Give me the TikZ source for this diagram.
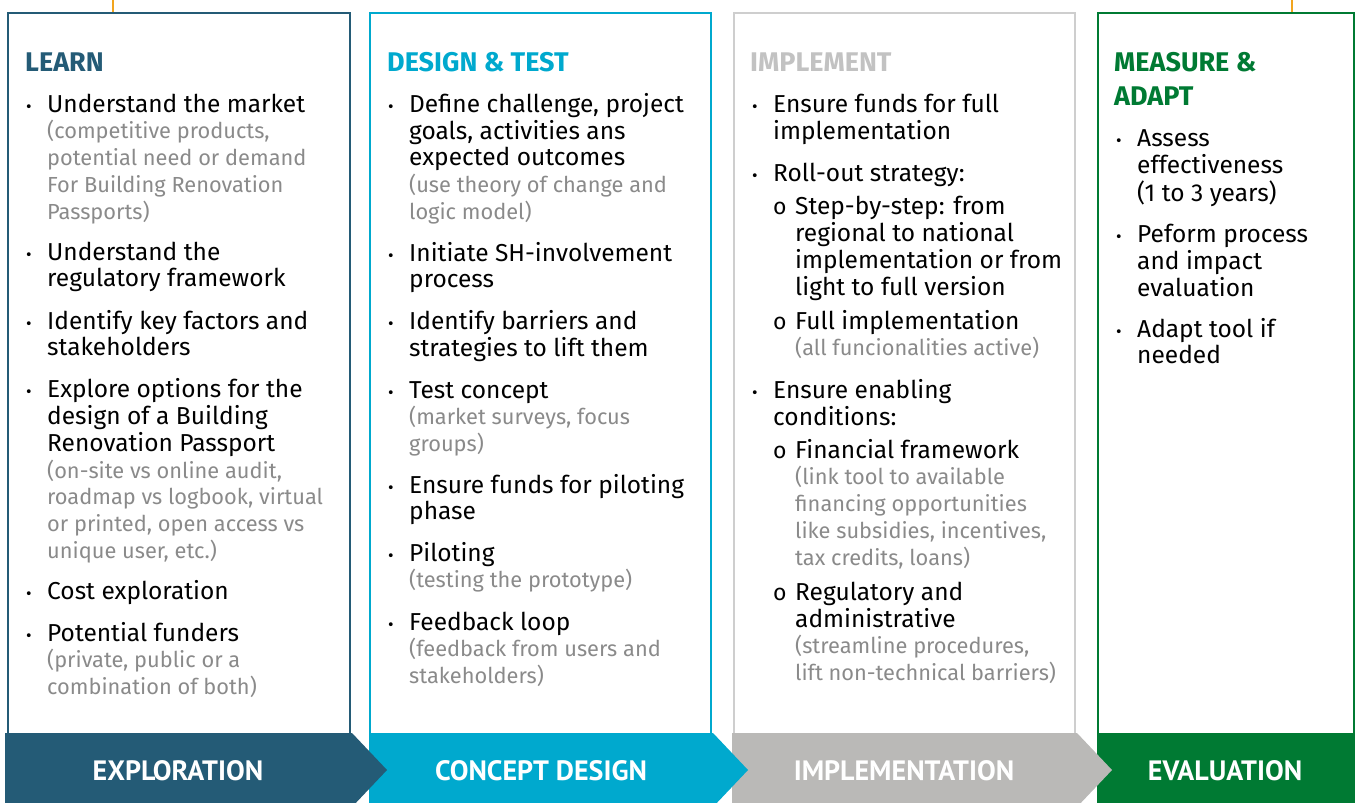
\documentclass[tikz,border=0pt]{standalone}
\usepackage{fontspec}
\setmainfont{Fira Sans}
\newfontfamily\phasefont{PT Sans}
\usetikzlibrary{positioning}

\definecolor{learncol}{HTML}{245B76}
\definecolor{designcol}{HTML}{00A9CE}
\definecolor{implcol}{HTML}{BAB9B7}
\definecolor{implhead}{HTML}{C2C2C2}
\definecolor{evalcol}{HTML}{007A33}
\definecolor{linkcol}{HTML}{F2A51E}
\definecolor{subgrey}{HTML}{8A8A8A}

\newcommand\subtxt[1]{{\color{subgrey}\fontsize{21.8}{26.8}\selectfont #1}}
\newcommand\rows[1]{\begin{tabular}[t]{@{}l@{}}#1\end{tabular}}

\begin{document}
\begin{tikzpicture}[x=1pt,y=-1pt,
	box/.style={draw,line width=2pt,anchor=north west,inner sep=0pt,minimum height=725pt},
	head/.style={anchor=base west,inner sep=0pt,font=\bfseries\fontsize{27}{34}\selectfont},
	txt/.style={anchor=base west,inner sep=0pt,font=\fontsize{24.5}{26.8}\selectfont},
	bul/.style={anchor=base west,inner sep=0pt,font=\fontsize{17}{20}\selectfont},
	sbul/.style={anchor=base west,inner sep=0pt,font=\fontsize{23}{26.8}\selectfont},
	phase/.style={inner sep=0pt,text=white,font=\phasefont\bfseries\fontsize{28}{30}\selectfont}]

	\useasboundingbox (0,0) rectangle (1358,803);

	% column frames
	\node[box,draw=learncol,minimum width=342pt] (learnbox) at (7,12) {};
	\node[box,draw=designcol,minimum width=341pt] (designbox) at (369,12) {};
	\node[box,draw=implhead!80,minimum width=341pt] (implbox) at (733,12) {};
	\node[box,draw=evalcol,minimum width=256pt] (evalbox) at (1097,12) {};

	\coordinate (link1) at (113,0);
	\coordinate (link2) at (1292,0);
	\draw[linkcol,line width=2pt] (link1) -- (link1 |- learnbox.north);
	\draw[linkcol,line width=2pt] (link2) -- (link2 |- evalbox.north);

	% phase arrows
	\fill[evalcol] (1097,733) rectangle (1355,810);
	\fill[implcol] (732,733) -- (1077,733) -- (1112,770) -- (1077,807) -- (732,807) -- cycle;
	\fill[designcol] (369,733) -- (713,733) -- (748,770) -- (713,807) -- (369,807) -- cycle;
	\fill[learncol] (5,733) -- (352,733) -- (387,770) -- (352,807) -- (5,807) -- cycle;

	\node[phase] (exploration) at (178,771) {EXPLORATION};
	\node[phase] (concept) at (541,771) {CONCEPT DESIGN};
	\node[phase] (implementation) at (904,771) {IMPLEMENTATION};
	\node[phase] (evaluation) at (1225,771) {EVALUATION};

	% LEARN
	\node[head,text=learncol] (learn) at (25,71) {LEARN};
	\node[txt] (l1) at (47,112) {\rows{Understand the market\\\subtxt{(competitive products,}\\\subtxt{potential need or demand}\\\subtxt{For Building Renovation}\\\subtxt{Passports)}}};
	\node[txt] (l2) at (47,260) {\rows{Understand the\\regulatory framework}};
	\node[txt] (l3) at (47,329) {\rows{Identify key factors and\\stakeholders}};
	\node[txt] (l4) at (47,397) {\rows{Explore options for the\\design of a Building\\Renovation Passport\\\subtxt{(on-site vs online audit,}\\\subtxt{roadmap vs logbook, virtual}\\\subtxt{or printed, open access vs}\\\subtxt{unique user, etc.)}}};
	\node[txt] (l5) at (47,599) {Cost exploration};
	\node[txt] (l6) at (47,641) {\rows{Potential funders\\\subtxt{(private, public or a}\\\subtxt{combination of both)}}};
	\foreach \n in {1,...,6}
		\node[bul] (lb\n) at ([xshift=-21pt]l\n.base west) {\textbullet};

	% DESIGN & TEST
	\node[head,text=designcol] (design) at (387,71) {DESIGN \& TEST};
	\node[txt] (d1) at (409,112) {\rows{Define challenge, project\\goals, activities ans\\expected outcomes\\\subtxt{(use theory of change and}\\\subtxt{logic model)}}};
	\node[txt] (d2) at (409,261) {\rows{Initiate SH-involvement\\process}};
	\node[txt] (d3) at (409,329) {\rows{Identify barriers and\\strategies to lift them}};
	\node[txt] (d4) at (409,398) {\rows{Test concept\\\subtxt{(market surveys, focus}\\\subtxt{groups)}}};
	\node[txt] (d5) at (409,493) {\rows{Ensure funds for piloting\\phase}};
	\node[txt] (d6) at (409,561) {\rows{Piloting\\\subtxt{(testing the prototype)}}};
	\node[txt] (d7) at (409,630) {\rows{Feedback loop\\\subtxt{(feedback from users and}\\\subtxt{stakeholders)}}};
	\foreach \n in {1,...,7}
		\node[bul] (db\n) at ([xshift=-21pt]d\n.base west) {\textbullet};

	% IMPLEMENT
	\node[head,text=implhead] (implement) at (750,71) {IMPLEMENT};
	\node[txt] (m1) at (773,112) {\rows{Ensure funds for full\\implementation}};
	\node[txt] (m2) at (773,181) {Roll-out strategy:};
	\node[txt] (m3) at (795,214) {\rows{Step-by-step: from\\regional to national\\implementation or from\\light to full version}};
	\node[txt] (m4) at (795,329) {\rows{Full implementation\\\subtxt{(all funcionalities active)}}};
	\node[txt] (m5) at (773,398) {\rows{Ensure enabling\\conditions:}};
	\node[txt] (m6) at (795,458) {\rows{Financial framework\\\subtxt{(link tool to available}\\\subtxt{financing opportunities}\\\subtxt{like subsidies, incentives,}\\\subtxt{tax credits, loans)}}};
	\node[txt] (m7) at (795,600) {\rows{Regulatory and\\administrative\\\subtxt{(streamline procedures,}\\\subtxt{lift non-technical barriers)}}};
	\foreach \n in {1,2,5}
		\node[bul] (mb\n) at ([xshift=-21pt]m\n.base west) {\textbullet};
	\foreach \n in {3,4,6,7}
		\node[sbul] (mo\n) at ([xshift=-22pt]m\n.base west) {o};

	% MEASURE & ADAPT
	\node[head,text=evalcol] (measure) at (1114,71) {\rows{MEASURE \&\\ADAPT}};
	\node[txt] (a1) at (1137,146) {\rows{Assess\\effectiveness\\(1 to 3 years)}};
	\node[txt] (a2) at (1137,242) {\rows{Peform process\\and impact\\evaluation}};
	\node[txt] (a3) at (1137,337) {\rows{Adapt tool if\\needed}};
	\foreach \n in {1,...,3}
		\node[bul] (ab\n) at ([xshift=-21pt]a\n.base west) {\textbullet};
\end{tikzpicture}
\end{document}
